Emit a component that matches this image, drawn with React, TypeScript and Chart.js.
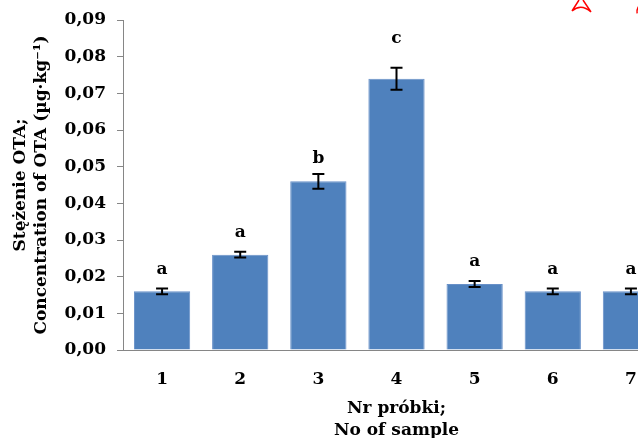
import React, { useEffect, useRef } from "react";
import { Chart, registerables } from "chart.js";

Chart.register(...registerables);

const categories = ["1", "2", "3", "4", "5", "6", "7"];
const concentration = [0.016, 0.026, 0.046, 0.074, 0.018, 0.016, 0.016];
const errorMargins = [0.0008, 0.0008, 0.002, 0.003, 0.0008, 0.0008, 0.0008];
const groupLetters = ["a", "a", "b", "c", "a", "a", "a"];
const letterLevels = [0.0218, 0.032, 0.0523, 0.085, 0.024, 0.0218, 0.0218];
const yMin = 0;
const yMax = 0.09;
const yStep = 0.01;

const yTitle = ["Stężenie OTA;", "Concentration of OTA (µg·kg⁻¹)"];
const xTitle = ["Nr próbki;", "No of sample"];

const FONT = "'DejaVu Serif', serif";
const AXIS_COLOR = "#868686";
const BAR_COLOR = "#4F81BD";

const errorBarPlugin = {
  id: "errorBars",
  afterDatasetsDraw(chart: any) {
    const { ctx, scales } = chart;
    const xs = scales.x;
    const ys = scales.y;
    ctx.save();
    ctx.strokeStyle = "#000000";
    ctx.lineWidth = 2;
    concentration.forEach((v, i) => {
      const e = errorMargins[i];
      const x = xs.getPixelForValue(i);
      const yT = ys.getPixelForValue(v + e);
      const yB = ys.getPixelForValue(v - e);
      ctx.beginPath();
      ctx.moveTo(x, yT);
      ctx.lineTo(x, yB);
      ctx.moveTo(x - 6, yT);
      ctx.lineTo(x + 6, yT);
      ctx.moveTo(x - 6, yB);
      ctx.lineTo(x + 6, yB);
      ctx.stroke();
    });
    ctx.fillStyle = "#000000";
    ctx.font = `bold 17px ${FONT}`;
    ctx.textAlign = "center";
    ctx.textBaseline = "middle";
    groupLetters.forEach((l, i) => {
      ctx.fillText(l, xs.getPixelForValue(i), ys.getPixelForValue(letterLevels[i]));
    });
    ctx.restore();
  },
};

const cornerMarkPlugin = {
  id: "cornerMark",
  afterDraw(chart: any) {
    const { ctx } = chart;
    ctx.save();
    ctx.strokeStyle = "#FF0000";
    ctx.lineWidth = 1.5;
    ctx.beginPath();
    ctx.moveTo(572, 11);
    ctx.lineTo(579, 0);
    ctx.moveTo(583, 0);
    ctx.lineTo(591, 12);
    ctx.moveTo(572, 11);
    ctx.quadraticCurveTo(581, 3, 591, 12);
    ctx.stroke();
    ctx.beginPath();
    ctx.arc(646, 12, 9, Math.PI * 0.95, Math.PI * 1.35);
    ctx.stroke();
    ctx.restore();
  },
};

export default function App() {
  const ref = useRef<HTMLCanvasElement | null>(null);

  useEffect(() => {
    if (!ref.current) return;
    const chart = new Chart(ref.current, {
      type: "bar",
      data: {
        labels: categories,
        datasets: [
          {
            data: concentration,
            backgroundColor: BAR_COLOR,
            borderColor: "#6890c8",
            borderWidth: 1,
            categoryPercentage: 1,
            barPercentage: 0.72,
          },
        ],
      },
      options: {
        responsive: false,
        animation: false,
        events: [],
        layout: { padding: { top: 20, right: 10, left: 0, bottom: 0 } },
        plugins: {
          legend: { display: false },
          tooltip: { enabled: false },
          title: { display: false },
        },
        scales: {
          x: {
            grid: { display: false },
            border: { display: true, color: AXIS_COLOR, width: 1 },
            ticks: {
              color: "#000",
              font: { family: FONT, size: 17, weight: "bold" },
              padding: 11,
            },
            title: {
              display: true,
              text: xTitle,
              color: "#000",
              font: { family: FONT, size: 17, weight: "bold", lineHeight: 1.3 },
              padding: { top: 0, bottom: 8 },
            },
            afterFit(scale: any) {
              scale.height = 100;
              scale.paddingLeft = 0;
              scale.paddingRight = 0;
            },
          },
          y: {
            min: yMin,
            max: yMax,
            grid: {
              display: true,
              drawOnChartArea: false,
              drawTicks: true,
              tickLength: 6,
              color: AXIS_COLOR,
            },
            border: { display: true, color: AXIS_COLOR, width: 1 },
            ticks: {
              stepSize: yStep,
              color: "#000",
              font: { family: FONT, size: 17, weight: "bold" },
              padding: 11,
              callback: (v: any) => Number(v).toFixed(2).replace(".", ","),
            },
            title: {
              display: true,
              text: yTitle,
              color: "#000",
              font: { family: FONT, size: 17, weight: "bold", lineHeight: 1.25 },
              padding: { top: 10, bottom: 0 },
            },
            afterFit(scale: any) {
              scale.width = 123;
              scale.paddingTop = 0;
              scale.paddingBottom = 0;
            },
          },
        },
      },
      plugins: [errorBarPlugin, cornerMarkPlugin],
    });
    return () => chart.destroy();
  }, []);

  return (
    <div style={{ position: "fixed", left: 0, top: 0, width: 680, height: 450, background: "#fff" }}>
      <canvas ref={ref} width={680} height={450} style={{ width: 680, height: 450, display: "block" }} />
    </div>
  );
}
